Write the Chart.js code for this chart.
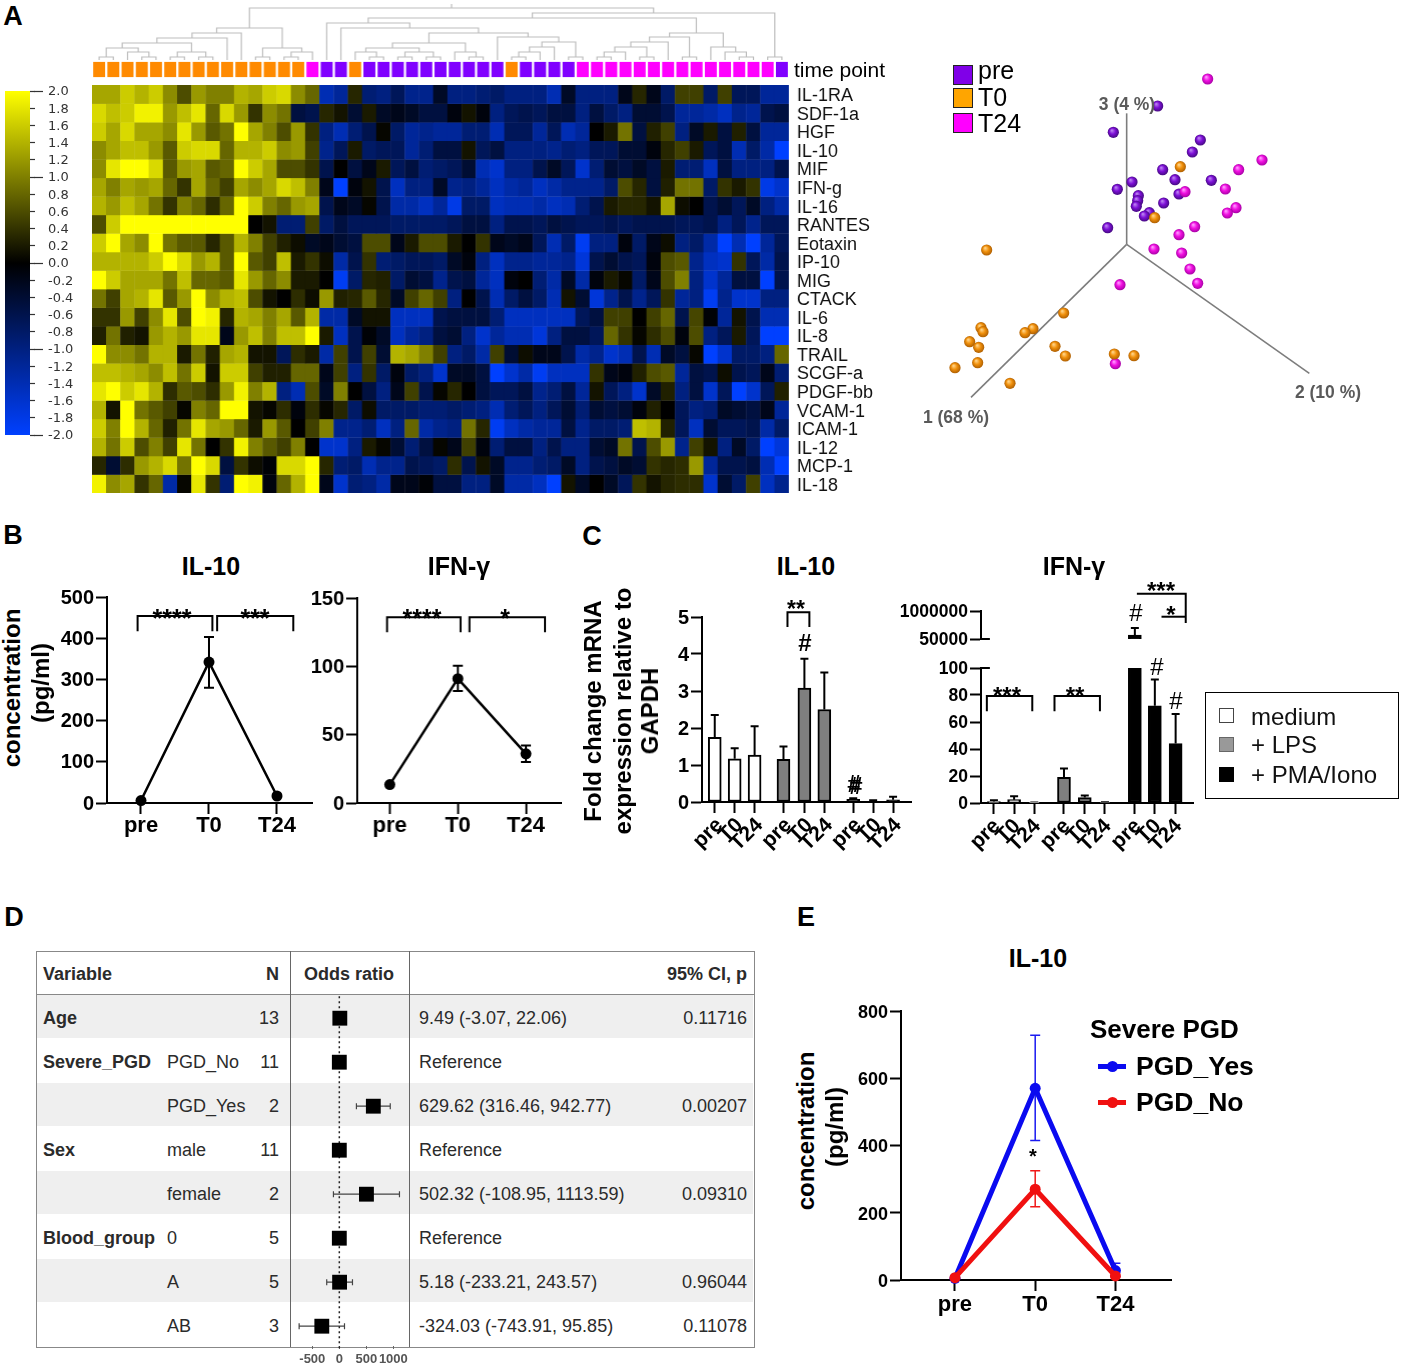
<!DOCTYPE html>
<html><head><meta charset="utf-8"><title>Cytokine figure</title>
<script src="https://cdn.jsdelivr.net/npm/chart.js@4/dist/chart.umd.min.js"></script>
<style>
html,body{margin:0;background:#fff}
#page{position:relative;width:1401px;height:1371px;overflow:hidden;background:#fff;font-family:'Liberation Sans',Arial,sans-serif}
#page canvas{position:absolute}
.t{position:absolute;white-space:pre;line-height:1}
.b{position:absolute}
</style></head><body><div id="page"></div>
<script>
/* ---------- DATA ---------- */
const genes=['IL-1RA','SDF-1a','HGF','IL-10','MIF','IFN-g','IL-16','RANTES','Eotaxin','IP-10','MIG','CTACK','IL-6','IL-8','TRAIL','SCGF-a','PDGF-bb','VCAM-1','ICAM-1','IL-12','MCP-1','IL-18'];
const heatValues=[
[1.3,1.3,1.6,1.4,1.6,1.1,.6,1.2,1,1,1.4,1.3,1.6,1.7,1.1,.8, -1.4,-1.2,.3,-.9,-1,-.7,-1.1,-1.1,-.3, -1,-1,-.9,-.8,-1,-1,-1,-1.4,-.3,-1,-1,-1,-.2,.3,-.2,-.8,.5,.5,-.8,.5,-.7,-.7,-1.2,-1.2],
[1.7,1.5,1.6,1.9,1.9,1.2,1.5,1.8,.8,1.7,1.2,.4,1.1,.9,-.5,-.6, .3,.15,-.4,.2,-.3,-.2,-.3,-.5,-.5, -.1,.15,-.1,-1,-.7,-.6,-.7,-.5,-.5,-1,-.5,-.8,-1,-.4,-.4,-.6,-1.2,-1.2,-1.3,-1.5,-1.1,-1.2,-.6,-.5],
[1.6,1.3,1.7,1.3,1.3,1.1,1.8,1.2,.7,.9,2,1.3,1,.6,1.2,.4, -1,-1.4,-.9,-.6,.05,-.8,-1.2,-1.1,-1.2, -1.2,-.9,-.9,-1.4,-.7,-.7,-1.2,-.7,-1.4,-1.2,0,.2,.9,-.5,.25,.5,-1,-.3,.2,-.5,.25,-.5,-1.2,-1.2],
[1.1,1.3,1.5,1.5,1.2,.7,1.6,1.7,1.7,.8,1.4,1.4,1.6,1.1,1.2,.5, -1.1,-.7,.2,-.8,-.7,-.7,-1.2,-.9,-.5, -.5,.15,-.7,-.5,-1,-1,-1,-1.1,-.9,-1,-.7,-.7,-.4,-.4,-.1,.3,.5,.2,-.7,-.5,-1.4,-.8,-1.3,-2],
[1.1,1.8,2,2,1.7,.7,1.2,1.3,.7,.8,2,1.6,1.3,.6,.6,.4, -.6,0,-.5,-.2,.2,-.7,-.5,-.9,-.8, -.7,-.4,-1.4,-1.6,-1,-1,-.6,-.3,-.7,-1.6,-.9,-.4,-.5,-.3,-.5,.2,-.9,-.9,-1.5,-.5,-1,-1,-1,-.6],
[1.3,1,1.3,1.2,1.3,.8,.4,1.3,.8,.5,1.3,1.1,1.3,1.7,1.5,1, -.2,-2,-.1,.15,-.6,-1.5,-1,-1,-.3, -1.1,-1,-1.2,-1.5,-1.3,-1.2,-1.5,-1.3,-1.1,-1.1,-1.1,-.8,.6,.3,-.5,.25,.9,.9,-.8,.4,.2,.4,-1.8,-1.6],
[1.4,1.2,1.5,1.3,.9,.4,1,.8,.35,.8,2,1.6,1,.8,1.2,1.3, -.6,-.2,-.3,.05,-.6,-1.3,-1.3,-1.5,-1.2, -1.8,-.8,-.8,-1.5,-1.4,-1.4,-1.3,-1.5,-1.4,-.9,-.6,.2,.3,.3,.15,1.3,.1,0,-.6,-.4,-.7,-.3,-1,-1.3],
[.6,1.6,2,2,2,2,2,2,2,2,2,0,.15,-.9,-.9,.5, -.8,-.5,-.7,-.7,-.7,-.8,-.8,-.8,-.8, -.7,-.5,-.5,-1,-.6,-.6,-.7,-.5,-.6,-.7,-.7,-.6,-.7,-.6,-.6,-.6,-.7,-.7,-.6,-1,-.7,-1.1,-.7,-.7],
[1.6,2,1.3,1.1,2,.9,.7,.7,.3,.7,1.4,1,.5,.25,.1,-.3, -.2,-.4,-.5,.6,.6,-.2,.2,.6,.6, .2,0,.4,-.2,-.3,-.2,-.7,-1.4,-.8,-1.9,-1,-1,-.1,-.8,-.2,.1,-1,-.8,-1.3,-2,-1.4,-2,-1.2,-.7],
[1.4,1.4,1.4,1.4,1.6,2,1.7,1.2,1.4,.7,2,.7,.5,1.5,.2,.4, .1,-1.3,-.6,.4,-.9,-.8,-.7,-.7,-.8, -.3,-.1,-1,-1.5,-1.1,-1.1,-1.2,-1.2,-1.1,-1.7,-.6,-.4,-.6,-.7,-.1,.6,.7,-1.1,-1.5,-1.6,.4,-.7,-1.3,-.6],
[2,1.6,1.3,1.3,1.3,.9,1.5,.8,.8,.7,1.8,1.2,.8,1.1,.2,.2, 0,-1.9,-.8,.3,.25,-.8,-.4,-.5,-1.1, -.6,-.5,-1.2,-1.5,-.1,0,-.9,-1.3,-.3,-1.3,-.1,.2,.05,-.8,-.2,.6,1,-1,-1.6,-1.2,-.5,-.5,-2,-.6],
[.9,.5,1.3,1.4,1.8,.7,1.2,2,1.1,1.4,1.5,.6,.15,0,.35,.1, 1.2,.25,.3,.7,.3,-.3,.5,.8,.5, -1,0,-.6,-1.4,-.8,-.5,-.8,-1.4,.15,-.4,-1.7,-1.1,-.6,-1.1,-.7,.4,-1.2,-1,-1.9,-1.1,-1.6,-1.6,-1,-1],
[.4,.4,1.2,.5,1.1,1.8,.6,2,1.9,.3,1.4,1.3,1,1.3,.7,1.4, -1.3,-1.3,-.3,.15,.15,-1.5,-1.5,-1.5,-.6, -.5,-.5,-.5,-.9,-1.5,-1.5,-1.5,-1.5,-1.5,-.7,-.5,.5,.5,0,.5,.8,-.6,.55,-.05,-1.2,.15,-.6,-1.4,-1.4],
[.25,.9,.25,.15,1.2,1.4,1.2,1.8,1.8,-.2,1.2,1.5,1,1.5,1.5,2, .2,-1.5,-.6,-.05,-.3,-1.5,-1.2,-1,-.5, -.4,-1,-1.6,-1.2,-1.4,-1.4,-1.7,-1,-.5,-.5,-.7,.8,.4,.05,.35,.6,-.1,.6,-1,-.7,.2,-.7,-2,-2],
[2,1.1,1.1,.9,1.4,1.4,.2,.9,.25,1.3,1.4,.15,.15,-.7,.35,.2, -1.3,.5,-.6,.5,-.4,1.4,1.3,1,.5, -1,-.8,-1.3,.5,-.4,.1,-.2,-.2,-.6,-1.3,-1.1,-1.6,-1.4,-.6,-1.4,-.3,-.5,.05,-2,-1.6,-.8,-.8,-1,.8],
[1.5,1.5,1.4,1.3,1.1,1.5,.9,1.6,.15,1.6,1.6,.5,.25,.25,.8,.8, -.2,.5,-1,.4,-.8,-.1,-.8,-1,-1.6, -.3,-.3,-.5,-2,-1.6,-1.3,-1.9,-1.5,-1.5,-1.5,.4,-.2,-.1,.25,.6,.7,-1.2,-.5,-.6,.1,-.6,-.7,-.2,-.9],
[1.8,2,1.6,1.8,1.4,.35,.7,.6,.35,1.2,1.9,1,1.4,-1,-1.4,.6, -.3,1,0,-.5,-1,-.2,.5,-.6,.05, .3,0,-.5,-.7,-.7,-.5,-1.1,-.9,-.5,-1.2,.15,-.7,-1,-1.6,-.3,.25,-1,-.5,-1.6,-.7,-2,-1.6,-.7,.25],
[1.4,.15,2,.9,.7,.5,.05,1,.8,2,2,.15,.05,.35,-.1,.35, .05,.3,-.8,.1,-.8,-.8,-.8,-.9,-.9, -.8,-.9,-1,-1.4,-.9,-.7,-1,-.7,-.4,-.9,-.4,-.5,-.4,-.1,.25,0,-.7,-1,-.9,-.3,-.4,-.5,-.2,-1.2],
[1.6,1,2,1.4,.8,.25,.9,1.8,1.3,1.2,.8,.2,1.2,.7,0,.5, 1,-1.1,-1.1,-.9,-1.5,-1,.8,-1.3,-1.1, -1,.9,.3,-1.9,-1.5,-1.3,-1.2,-1.2,-.5,-1.1,-.8,-.8,-.9,1.5,1.4,.25,-.7,-1.5,-.4,-.7,-.7,-.6,-1.3,-.8],
[1.4,.9,1.6,.6,1,.5,1.8,.9,0,.4,1.9,1,.7,.5,1,0, -1.6,-1.6,-1,.2,.05,-.4,-.9,-.5,.05, -.2,.5,-.1,-.9,-.5,-.5,-1,-.6,-1,-1,-.4,-.3,.9,-.6,.6,1.2,-1.1,.5,.15,-1,-.3,-.8,-2,-1.7],
[.3,-.4,.35,1.2,1.4,1.7,.9,2,1.7,-.5,.4,.1,-.05,1.7,1.7,2, .3,-.9,-.8,-1.4,-1.1,-1.1,-.6,-.7,-.8, .35,-.6,.15,-.3,-1.1,-1.1,-.9,-.8,-.3,-1,-.6,-.5,-.3,-.4,.4,.3,.35,1.2,-1.2,-.6,-.6,-.5,-1.4,-2],
[1.9,1.1,1.3,.4,.8,-1.3,.05,1.8,.4,-.9,2,1.9,-.1,.8,1.4,2, -.2,-1.6,-.9,-1,-1.3,-.2,-.2,-.05,-.5, -.5,-1,-1,-.3,-1.3,-1.3,-1.5,-2,.15,-.3,0,-.3,-.7,.4,.15,.3,.35,.35,-1.6,-.4,-.8,.5,-1.5,-1.1]
];
const timePoints=['T0','T0','T0','T0','T0','T0','T0','T0','T0','T0','T0','T0','T0','T0','T0','T24','pre','pre','T0','pre','pre','pre','pre','pre','pre','pre','pre','pre','pre','T0','pre','pre','pre','pre','T24','T24','T24','T24','T24','T24','T24','T24','T24','T24','T24','T24','T24','T24','pre'];
const colorbarTicksMajor=[2,1,0,-1,-2];
// dendrogram merges: [left, right, height]; a plain number is a heat-map column
const dendroA=[[0,1,3],[2,[3,4,3],8],12];
const dendroB=[[5,6,3],[7,8,3],8];
const dendroLeft=[[[[dendroA,dendroB,17],9,22],10,27],[[11,12,3],[[13,14,3],15,8],12],32];
const dendroP=[[18,[19,20,3],8],[[21,22,3],[23,24,3],8],12];
const dendroQ=[25,[26,27,3],8];
const dendroV=[[[[29,30,3],31,8],32,13],[33,34,3],18];
const dendroL=[16,[17,[[dendroP,dendroQ,17],[28,dendroV,23],27],32],37];
const dendroM=[[[[[35,36,3],37,8],[38,39,3],13],40,18],[41,42,3],23];
const dendroN=[43,[44,[45,46,3],8],13];
const dendroRight=[[dendroL,[dendroM,dendroN,27],42],[47,48,3],47];
const dendroRoot=[dendroLeft,dendroRight,52];
const dendroRootStub=56;
// PCA projection
const pcaPre=[[773,168],[640,247],[901,270],[877,306],[788,359],[825,389],[934,391],[696,396],[652,418],[837,432],[715,437],[713,452],[709,469],[791,459],[748,488],[733,498],[623,533]];
const pcaT0=[[841,350],[764,503],[260,600],[491,789],[243,833],[249,845],[399,836],[375,848],[209,875],[236,892],[465,889],[496,918],[643,912],[702,917],[233,938],[165,953],[330,1000]];
const pcaT24=[[923,87],[1086,330],[1016,359],[976,417],[855,425],[1008,473],[982,489],[884,530],[837,554],[762,597],[845,609],[870,657],[893,700],[660,704],[646,941]];
const pcaAxisOrigin=[680,583],pcaAxis1=[213,1042],pcaAxis2=[1228,970],pcaAxis3=[680,190];
// panel B
const timeLabels=['pre','T0','T24'];
const bIl10=[6,342,17],bIl10Low=[null,280,null],bIl10High=[null,403,null];
const bIfn=[13.5,91,36],bIfnLow=[null,82,30],bIfnHigh=[null,100.5,42];
const bIl10Brackets=[[[-.05,417],[-.05,454],[1.05,454],[1.05,417]],[[1.12,417],[1.12,454],[2.24,454],[2.24,417]]];
const bIfnBrackets=[[[-.04,125],[-.04,136],[1.04,136],[1.04,125]],[[1.17,125],[1.17,136],[2.28,136],[2.28,125]]];
// panel C
const cSlots=[0,1,2,3.45,4.5,5.5,6.95,7.95,8.95];
const cIfnSlots=[0,1,2,3.47,4.5,5.5,6.98,7.97,9];
const cBarLabels=['pre','T0','T24','pre','T0','T24','pre','T0','T24'];
const cStimColors=['#fff','#fff','#fff','#7f7f7f','#7f7f7f','#7f7f7f','#000','#000','#000'];
const cIl10=[1.75,1.17,1.27,1.15,3.08,2.5,.07,.02,.06];
const cIl10Err=[2.35,1.45,2.05,1.5,3.87,3.5,.1,.05,.14];
const cIl10Bracket=[[3.65,4.73],[3.65,5.13],[4.75,5.13],[4.75,4.73]];
const cIfn=[1,2.5,.2,19,4,.3,186000,72,44];
const cIfnErr=[2,5,.3,25.5,5.5,.6,423000,91.5,66];
const cIfnBrackets=[[[-.35,68],[-.35,79.3],[1.9,79.3],[1.9,68]],[[3,68],[3,79.3],[5.25,79.3],[5.25,68]]];
const cIfnTopBrackets=[[[7.08,1587000],[9.5,1587000],[9.5,593000]],[[8.3,806000],[9.5,806000]]];
const cBrokenTickLow=[[-.64,100],[-.2,100]],cBrokenTickHigh=[[-.64,50000],[-.2,50000]];
const cBrokenAxisFloor=50000;
// panel D
const dVariables=['Age','Severe_PGD','','Sex','','Blood_group','',''];
const dLevels=['','PGD_No','PGD_Yes','male','female','0','A','AB'];
const dN=[13,11,2,11,2,5,5,3];
const dEst=[9.49,0,629.62,0,502.32,0,5.18,-324.03];
const dLow=[-3.07,null,316.46,null,-108.95,null,-233.21,-743.91];
const dHigh=[22.06,null,942.77,null,1113.59,null,243.57,95.85];
const dCI=['9.49 (-3.07, 22.06)','Reference','629.62 (316.46, 942.77)','Reference','502.32 (-108.95, 1113.59)','Reference','5.18 (-233.21, 243.57)','-324.03 (-743.91, 95.85)'];
const dP=['0.11716','','0.00207','','0.09310','','0.96044','0.11078'];
const dTicks=[-500,0,500,1000];
// panel E
const eYes=[5,570,28],eYesLow=[null,415,10],eYesHigh=[null,728,50];
const eNo=[7,270,12],eNoLow=[null,218,null],eNoHigh=[null,325,null];

/* ---------- HELPERS ---------- */
const page=document.getElementById('page');
const FF="'Liberation Sans',Arial,sans-serif";
Chart.defaults.animation=false;
Chart.defaults.responsive=false;
Chart.defaults.devicePixelRatio=1;
Chart.defaults.events=[];
Chart.defaults.plugins.legend.display=false;
Chart.defaults.plugins.tooltip.enabled=false;
Chart.defaults.font.family=FF;

function T(s,x,y,o={}){
  const d=document.createElement('div');d.className='t';d.textContent=s;
  const a=o.a||'c';
  const tx=a==='l'?'0':a==='r'?'-100%':'-50%';
  d.style.cssText+=`left:${x}px;top:${y}px;font:${o.w||'normal'} ${o.s||18}px ${o.f||FF};color:${o.c||'#000'};transform:translate(${tx},-50%)${o.r?` rotate(${o.r}deg)`:''};z-index:5;`;
  page.appendChild(d);return d;
}
function B(x,y,w,h,css){const d=document.createElement('div');d.className='b';d.style.cssText+=`left:${x}px;top:${y}px;width:${w}px;height:${h}px;${css}`;page.appendChild(d);return d;}
function noPad(s){s.paddingTop=s.paddingBottom=s.paddingLeft=s.paddingRight=0;}
function mount(box,m,config){
  const c=document.createElement('canvas');
  const W=box[2]-box[0]+m.l+m.r,H=box[3]-box[1]+m.t+m.b;
  c.width=W;c.height=H;c.style.left=(box[0]-m.l)+'px';c.style.top=(box[1]-m.t)+'px';c.style.width=W+'px';c.style.height=H+'px';
  page.appendChild(c);
  const x=config.options.scales.x,y=config.options.scales.y,p={top:m.t,left:0,right:0,bottom:0};
  if(x.display===false)p.bottom=m.b;else x.afterFit=s=>{s.height=m.b;noPad(s);};
  if(y.display===false){p.left=m.l;p.right=m.r;}
  else if(y.position==='right'){p.left=m.l;y.afterFit=s=>{s.width=m.r;noPad(s);};}
  else{p.right=m.r;y.afterFit=s=>{s.width=m.l;noPad(s);};}
  config.options.layout={autoPadding:false,padding:p};
  return new Chart(c,config);
}
const whiskers={id:'whiskers',beforeDatasetsDraw(chart){
  const {ctx,scales:{x,y}}=chart;
  chart.data.datasets.forEach(d=>{
    if(!d.errHigh&&!d.ciHigh)return;
    ctx.save();ctx.strokeStyle=d.errColor||'#000';ctx.lineWidth=d.errWidth||2;
    d.data.forEach((pt,i)=>{
      ctx.beginPath();
      if(d.ciHigh){
        if(d.ciHigh[i]==null)return;
        const l=x.getPixelForValue(d.ciLow[i]),h=x.getPixelForValue(d.ciHigh[i]),py=y.getPixelForValue(pt.y),c=d.cap;
        ctx.moveTo(l,py);ctx.lineTo(h,py);ctx.moveTo(l,py-c);ctx.lineTo(l,py+c);ctx.moveTo(h,py-c);ctx.lineTo(h,py+c);
      }else{
        if(d.errHigh[i]==null)return;
        if(d.clipTop!=null&&d.errHigh[i]>d.clipTop)return;
        if(d.clipBottom!=null&&d.errHigh[i]<d.clipBottom)return;
        const px=x.getPixelForValue(pt.x),h=y.getPixelForValue(d.errHigh[i]);
        const lv=d.errLow?d.errLow[i]:pt.y;
        const l=y.getPixelForValue(lv==null?pt.y:lv),c=d.cap;
        ctx.moveTo(px,Math.min(l,y.bottom));ctx.lineTo(px,h);ctx.moveTo(px-c,h);ctx.lineTo(px+c,h);
        if(d.errLow&&d.errLow[i]!=null){ctx.moveTo(px-c,l);ctx.lineTo(px+c,l);}
      }
      ctx.stroke();
    });
    ctx.restore();
  });
}};
Chart.register(whiskers);
const xy=(arr,ys)=>ys.map((v,i)=>({x:arr[i],y:v}));
const idx=[0,1,2];
const pts=a=>a.map(p=>({x:p[0],y:p[1]}));
const bracket=(a,w)=>({type:'line',data:pts(a),borderColor:'#000',borderWidth:w||2,pointRadius:0,clip:false,tension:0,order:5,parsing:true});
function axis(size,extra={}){
  return Object.assign({type:'linear',display:true,offset:false,
    border:{display:true,color:'#000',width:2},
    grid:{display:true,offset:false,drawOnChartArea:false,drawTicks:true,tickLength:11,tickColor:'#000',tickWidth:2},
    ticks:{color:'#000',autoSkip:false,maxRotation:0,padding:2,font:{family:FF,weight:'bold',size}}},extra);
}
function heatColor(v){
  if(v>=0){const c=Math.round(v/2*255);return `rgb(${c},${c},0)`;}
  const t=-v/2;return `rgb(0,${Math.round(64*t)},${Math.round(255*t)})`;
}
const tpColor={pre:'#8000ff',T0:'#ff8a00',T24:'#ff00ff'};

/* ---------- PANEL LETTERS ---------- */
[['A',13,16],['B',13,535],['C',592,536],['D',14,917],['E',806,917]].forEach(l=>T(l[0],l[1],l[2],{w:'bold',s:27}));

/* ---------- PANEL A : dendrogram ---------- */
const dendroPts=[];
(function walk(n){
  if(typeof n==='number')return {x:n,h:0};
  const a=walk(n[0]),b=walk(n[1]);
  dendroPts.push({x:a.x,y:a.h},{x:a.x,y:n[2]},{x:b.x,y:n[2]},{x:b.x,y:b.h},{x:NaN,y:NaN});
  return {x:(a.x+b.x)/2,h:n[2]};
})(dendroRoot);
const rootX=dendroPts[dendroPts.length-3].x,rootX0=dendroPts[dendroPts.length-4].x;
dendroPts.push({x:(rootX+rootX0)/2,y:52},{x:(rootX+rootX0)/2,y:dendroRootStub});
mount([92,2,788.5,60],{l:0,r:0,t:0,b:0},{type:'line',
  data:{datasets:[{data:dendroPts,borderColor:'#bdbdbd',borderWidth:1.2,pointRadius:0,tension:0,clip:false,spanGaps:false}]},
  options:{scales:{x:{type:'linear',display:false,min:-.5,max:48.5},y:{type:'linear',display:false,min:0,max:58}}}});

/* time point strip */
mount([92,60,788.5,79],{l:0,r:0,t:0,b:0},{type:'bar',
  data:{labels:timePoints.map((_,i)=>i),datasets:[{data:timePoints.map(()=>[0.1,0.9]),backgroundColor:timePoints.map(t=>tpColor[t]),barPercentage:.84,categoryPercentage:1}]},
  options:{scales:{x:{display:false},y:{type:'linear',display:false,min:0,max:1}}}});
T('time point',794,70,{s:21,a:'l'});

/* heat map */
mount([92,85,788.5,493],{l:0,r:110,t:0,b:0},{type:'bar',
  data:{labels:heatValues[0].map((_,i)=>i),
    datasets:heatValues.map((row,r)=>({data:row.map(()=>[r,r+1.02]),backgroundColor:row.map(heatColor),borderWidth:0}))},
  options:{datasets:{bar:{grouped:false,barPercentage:1.03,categoryPercentage:1}},
    scales:{x:{display:false},
      y:{type:'linear',position:'right',min:0,max:22,reverse:true,
        afterBuildTicks:s=>{s.ticks=genes.map((_,i)=>({value:i+.5}));},
        border:{display:false},grid:{display:false,drawTicks:false},
        ticks:{autoSkip:false,color:'#111',padding:8,labelOffset:2,font:{family:FF,size:18},callback:(v,i)=>genes[i]}}}}});

/* colour bar */
const cbarTicks={id:'cbarTicks',afterDraw(ch){
  const {ctx,scales:{y}}=ch;ctx.save();ctx.strokeStyle='#333';ctx.lineWidth=1.2;
  colorbarTicksMajor.forEach(v=>{const p=Math.round(y.getPixelForValue(v))+.5;ctx.beginPath();ctx.moveTo(y.left+4,p);ctx.lineTo(y.left+13,p);ctx.stroke();});
  ctx.restore();}};
mount([5,91,30,435],{l:0,r:60,t:10,b:10},{type:'bar',
  data:{labels:[''],datasets:[{data:[[-2,2]],barPercentage:1,categoryPercentage:1,borderWidth:0,
    backgroundColor(c){const a=c.chart.chartArea;if(!a)return '#000';
      const g=c.chart.ctx.createLinearGradient(0,a.top,0,a.bottom);
      g.addColorStop(0,heatColor(2));g.addColorStop(.5,heatColor(0));g.addColorStop(1,heatColor(-2));return g;}}]},
  options:{scales:{x:{display:false},
    y:{type:'linear',position:'right',min:-2,max:2,
      border:{display:false},
      grid:{drawOnChartArea:false,drawTicks:true,tickLength:5,tickColor:'#333',tickWidth:1.2},
      ticks:{stepSize:.2,autoSkip:false,padding:13,labelOffset:1,color:'#333',font:{family:"'DejaVu Sans'",size:13},
        callback:v=>Math.abs(v)<1e-9?'0.0':v.toFixed(1)}}}},
  plugins:[cbarTicks]});

/* PCA */
function sphere(base,dark,light){return function(c){
  if(!c.raw)return base;
  const ch=c.chart,px=ch.scales.x.getPixelForValue(c.raw.x),py=ch.scales.y.getPixelForValue(c.raw.y);
  if(!isFinite(px)||!isFinite(py))return base;
  const g=ch.ctx.createRadialGradient(px-1.5,py-2,.5,px,py,6);
  g.addColorStop(0,light);g.addColorStop(.45,base);g.addColorStop(1,dark);return g;};}
const pcaLine=e=>({type:'line',data:pts([pcaAxisOrigin,e]),borderColor:'#7d7d7d',borderWidth:1.6,pointRadius:0,order:9,clip:false});
const pcaSet=(a,base,dark,light,order)=>({type:'scatter',data:pts(a),order,pointRadius:5.6,borderWidth:0,pointBorderWidth:0,pointBackgroundColor:sphere(base,dark,light),clip:false});
mount([900,50,1380,440],{l:0,r:0,t:0,b:0},{type:'scatter',
  data:{datasets:[pcaLine(pcaAxis1),pcaLine(pcaAxis2),pcaLine(pcaAxis3),
    pcaSet(pcaPre,'#7d0fd6','#3f0a78','#b87af0',4),
    pcaSet(pcaT24,'#f010e0','#a000a0','#ff90ff',3),
    pcaSet(pcaT0,'#f0900c','#a85a00','#ffd080',2)]},
  options:{scales:{x:{type:'linear',display:false,min:0,max:1440},y:{type:'linear',display:false,min:0,max:1170,reverse:true}}}});
[['pre',65,'#8000e8'],['T0',88,'#ffa500'],['T24',113,'#ff00ff']].forEach((r,i)=>{
  B(953,r[1],18,18,`background:${r[2]};border:1px solid #222;z-index:4;`);
  T(r[0],978,[70,97,123][i],{s:25,a:'l'});
});
T('3 (4 %)',1127,104,{w:'bold',s:17.5,c:'#5a5a5a'});
T('2 (10 %)',1328,392,{w:'bold',s:17.5,c:'#5a5a5a'});
T('1 (68 %)',956,417,{w:'bold',s:17.5,c:'#5a5a5a'});

/* ---------- PANEL B ---------- */
function lineChart(box,ymin,ymax,ystep,xmin,xmax,vals,low,high,brk,ySize,xSize,cap,ml){
  return mount(box,{l:ml||60,r:4,t:12,b:40},{type:'line',
    data:{datasets:[{data:xy(idx,vals),errLow:low,errHigh:high,errWidth:2,cap,borderColor:'#000',borderWidth:2.5,
      pointRadius:5.5,pointBackgroundColor:'#000',pointBorderWidth:0,tension:0,clip:false,order:1}].concat(brk.map(b=>bracket(b)))},
    options:{scales:{
      x:axis(xSize,{min:xmin,max:xmax,afterBuildTicks:s=>{s.ticks=idx.map(v=>({value:v}));},
        ticks:Object.assign(axis(xSize).ticks,{padding:-1,callback:(v,i)=>timeLabels[i]})}),
      y:axis(ySize,{min:ymin,max:ymax,ticks:Object.assign(axis(ySize).ticks,{stepSize:ystep,labelOffset:1})})}}});
}
lineChart([107,597,312,803],0,500,100,-.5,2.515,bIl10,bIl10Low,bIl10High,bIl10Brackets,20,22,5);
lineChart([357,598,560.5,803],0,150,50,-.478,2.515,bIfn,bIfnLow,bIfnHigh,bIfnBrackets,20,22,5);
T('IL-10',211,566,{w:'bold',s:25});
T('IFN-γ',459,566,{w:'bold',s:25});
T('concentration',12,688,{w:'bold',s:24,r:-90});
T('(pg/ml)',41,683,{w:'bold',s:24,r:-90});
const star=(s,x,y,sz)=>T(s,x,y+(sz||25)*.2,{w:'bold',s:sz||25});
star('****',172,613);star('***',255,613);star('****',422,613);star('*',505,613);

/* ---------- PANEL C ---------- */
function barChart(box,m,slots,vals,errs,ymin,ymax,yOpts,showX,extras,ySize){
  const ax=axis(ySize,{min:ymin,max:ymax});
  Object.assign(ax,yOpts.axis||{});
  ax.ticks=Object.assign(ax.ticks,{labelOffset:1},yOpts.ticks||{});
  const xAxis=showX?axis(21,{min:-.64,max:showX,afterBuildTicks:s=>{s.ticks=slots.map(v=>({value:v}));},
      ticks:Object.assign(axis(21).ticks,{minRotation:45,maxRotation:45,padding:0,labelOffset:yOpts.xLabelShift,callback:(v,i)=>cBarLabels[i]})})
    :{type:'linear',display:false,min:-.64,max:yOpts.xmax,offset:false};
  return mount(box,m,{type:'bar',
    data:{datasets:[{type:'bar',data:xy(slots,vals),errHigh:errs,clipTop:yOpts.clipTop,clipBottom:yOpts.clipBottom,errWidth:2,cap:4,backgroundColor:cStimColors,borderColor:'#000',borderWidth:2,borderSkipped:false,barThickness:13,order:2}].concat(extras)},
    options:{scales:{x:xAxis,y:ax}}});
}
barChart([701.5,617,911,802],{l:45,r:4,t:20,b:58},cSlots,cIl10,cIl10Err,0,5,{xLabelShift:5,ticks:{stepSize:1}},9.85,[bracket(cIl10Bracket)],20);
T('IL-10',806,566,{w:'bold',s:25});
T('IFN-γ',1074,566,{w:'bold',s:25});
T('Fold change mRNA',593,711,{w:'bold',s:24,r:-90});
T('expression relative to',623,711,{w:'bold',s:24,r:-90});
T('GAPDH',650,711,{w:'bold',s:24,r:-90});
star('**',796,604,23);
T('#',805,643,{s:24,w:'bold'});
T('#',854,784,{s:24,w:'bold'});T('#',856,786,{s:24,w:'bold'});
const brokenTicks={font:{family:FF,weight:'bold',size:17.5},callback:v=>String(v)};
// lower segment of the broken axis
barChart([981,667.7,1193,803],{l:90,r:4,t:12,b:58},cIfnSlots,cIfn,cIfnErr,0,100,{clipTop:100,xLabelShift:3,ticks:Object.assign({stepSize:20},brokenTicks)},9.86,
  cIfnBrackets.map(b=>bracket(b)).concat([bracket(cBrokenTickLow)]),20);
// upper segment of the broken axis: only bars reaching the segment are drawn in it
barChart([981,611,1193,639],{l:90,r:24,t:30,b:12},cIfnSlots,cIfn.map(v=>v>=cBrokenAxisFloor?v:null),cIfnErr,cBrokenAxisFloor,1000000,{xmax:9.86,clipTop:1000000,clipBottom:cBrokenAxisFloor,
   axis:{afterBuildTicks:s=>{s.ticks=[{value:cBrokenAxisFloor},{value:1000000}];}},
   ticks:Object.assign({},brokenTicks)},false,
   cIfnTopBrackets.map(b=>bracket(b)).concat([bracket(cBrokenTickHigh)]),20);
star('***',1007,691,24);star('**',1075,691,24);star('***',1161,586,24);star('*',1171,610,24);
T('#',1136,613,{s:24});T('#',1157,667,{s:24});T('#',1176,701,{s:24});
// legend box
B(1205,692,192,105,'border:1.5px solid #000;');
[['medium',717,708,'#fff','#444'],['+ LPS',745,737,'#999','#666'],['+ PMA/Iono',775,767,'#000','#000']].forEach(r=>{
  B(1219,r[2],13,13,`background:${r[3]};border:1.5px solid ${r[4]};`);
  T(r[0],1251,r[1],{s:24,a:'l',c:'#111'});
});

/* ---------- PANEL D ---------- */
const rowH=44,tTop=994;
dEst.forEach((_,i)=>{if(i%2===0)B(37,tTop+i*rowH+1,716,rowH-1,'background:#efefef;');});
B(36,951,717,395,'border:1.5px solid #888;');
B(36,993.5,718,0,'border-top:1.5px solid #888;');
B(289.5,951,0,396,'border-left:1.5px solid #666;');
B(408.5,951,0,396,'border-left:1.5px solid #666;');
const tc='#2b2b2b',ts=18;
T('Variable',43,974,{w:'bold',s:ts,a:'l',c:tc});T('N',279,974,{w:'bold',s:ts,a:'r',c:tc});
T('Odds ratio',349,974,{w:'bold',s:ts,c:tc});T('95% CI, p',747,974,{w:'bold',s:ts,a:'r',c:tc});
dEst.forEach((_,i)=>{
  const y=tTop+rowH*i+24;
  if(dVariables[i])T(dVariables[i],43,y,{w:'bold',s:ts,a:'l',c:tc});
  if(dLevels[i])T(dLevels[i],167,y,{s:ts,a:'l',c:tc});
  T(String(dN[i]),279,y,{s:ts,a:'r',c:tc});
  T(dCI[i],419,y,{s:ts,a:'l',c:tc});
  if(dP[i])T(dP[i],747,y,{s:ts,a:'r',c:tc});
});
const dRows=dEst.map((_,i)=>i);
mount([290,994,409,1346],{l:0,r:4,t:0,b:22},{type:'scatter',
  data:{datasets:[
    {type:'scatter',data:xy(dEst,dRows),ciLow:dLow,ciHigh:dHigh,errColor:'#444',errWidth:1.2,cap:3,pointStyle:'rect',pointRadius:10.5,pointBackgroundColor:'#000',pointBorderWidth:0,order:1,clip:false},
    {type:'line',data:[{x:0,y:-.5},{x:0,y:7.5}],borderColor:'#222',borderWidth:1.5,borderDash:[2,3],pointRadius:0,order:3,clip:false}]},
  options:{scales:{
    x:{type:'linear',min:-913,max:1290,position:'bottom',afterBuildTicks:s=>{s.ticks=dTicks.map(v=>({value:v}));},
      border:{display:false},grid:{drawOnChartArea:false,drawTicks:true,tickLength:3,tickColor:'#666',tickWidth:1},
      ticks:{autoSkip:false,maxRotation:0,padding:3,color:'#555',font:{family:FF,weight:'bold',size:13},callback:v=>String(v)}},
    y:{type:'linear',display:false,min:-.55,max:7.45,reverse:true}}}});

/* ---------- PANEL E ---------- */
mount([900.7,1011,1170.7,1280],{l:60,r:4,t:12,b:40},{type:'line',
  data:{datasets:[
    {data:xy(idx,eYes),errLow:eYesLow,errHigh:eYesHigh,errColor:'#1a1af0',errWidth:1.5,cap:5,borderColor:'#0a0af0',borderWidth:5,pointRadius:5.5,pointBackgroundColor:'#0a0af0',pointBorderWidth:0,tension:0,clip:false,order:2},
    {data:xy(idx,eNo),errLow:eNoLow,errHigh:eNoHigh,errColor:'#f01818',errWidth:1.5,cap:5,borderColor:'#f01010',borderWidth:5,pointRadius:5.5,pointBackgroundColor:'#f01010',pointBorderWidth:0,tension:0,clip:false,order:1}]},
  options:{scales:{
    x:axis(22,{min:-.673,max:2.693,afterBuildTicks:s=>{s.ticks=idx.map(v=>({value:v}));},ticks:Object.assign(axis(22).ticks,{padding:1,callback:(v,i)=>timeLabels[i]})}),
    y:axis(18,{min:0,max:800,ticks:Object.assign(axis(18).ticks,{stepSize:200,labelOffset:2})})}}});
T('IL-10',1038,958,{w:'bold',s:25});
T('concentration',806,1131,{w:'bold',s:24,r:-90});
T('(pg/ml)',835,1127,{w:'bold',s:24,r:-90});
T('Severe PGD',1090,1029,{w:'bold',s:26,a:'l'});
[['PGD_Yes',1066,'#0a0af0'],['PGD_No',1102,'#f01010']].forEach(r=>{
  B(1098,r[1]-2.5,28,5,`background:${r[2]};`);
  B(1106.5,r[1]-5.5,11,11,`background:${r[2]};border-radius:50%;`);
  T(r[0],1136,r[1],{w:'bold',s:26.5,a:'l'});
});
star('*',1033,1152,20);
</script></body></html>
